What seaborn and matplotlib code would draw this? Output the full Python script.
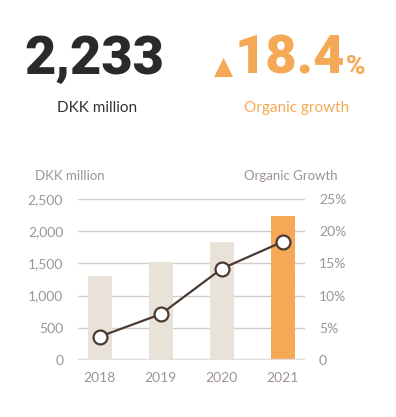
import numpy as np
import pandas as pd
import matplotlib
matplotlib.use("Agg")
import matplotlib.pyplot as plt
from matplotlib import font_manager
import seaborn as sns

years = ["2018", "2019", "2020", "2021"]
revenue = [1310, 1515, 1840, 2233]
growth = [3.6, 7.1, 14.2, 18.4]
left_ticks = [0, 500, 1000, 1500, 2000, 2500]
right_ticks = [0, 5, 10, 15, 20, 25]

BEIGE = "#E8E2D9"
ORANGE = "#F5A855"
BROWN = "#4B3A33"
GREY = "#9E9491"
GRID = "#D3CDCA"

sns.set_theme(style="white")
plt.rcParams["font.family"] = ["Lato", "DejaVu Sans"]

# heavy face for the headline figures
big_font = font_manager.FontProperties(family=["Roboto", "Liberation Sans"],
                                       weight=900)

fig = plt.figure(figsize=(3.96, 4.17), dpi=100)
ax = fig.add_axes([0.198, 0.1374, 0.572, 0.3847])

df = pd.DataFrame({"year": years, "revenue": revenue})
df["hl"] = ["old", "old", "old", "new"]
sns.barplot(data=df, x="year", y="revenue", hue="hl",
            palette={"old": BEIGE, "new": ORANGE}, width=0.39, saturation=1,
            legend=False, ax=ax, zorder=2, edgecolor="none")

ax.set_ylim(0, 2500)
ax.set_xlim(-0.35, 3.36)
ax.set_yticks(left_ticks)
ax.set_yticklabels([f"{v:,}" for v in left_ticks])
for v in left_ticks[1:]:
    ax.axhline(v, color=GRID, lw=1, zorder=1)
ax.axhline(0, color="#E2DEDC", lw=2.5, zorder=3)
for s in ax.spines.values():
    s.set_visible(False)
ax.set_xlabel("")
ax.set_ylabel("")
ax.tick_params(axis="both", length=0, colors=GREY, labelsize=10)
ax.tick_params(axis="y", pad=11)
ax.tick_params(axis="x", pad=9)

ax2 = ax.twinx()
gdf = pd.DataFrame({"pos": np.arange(len(years)), "growth": growth})
sns.lineplot(data=gdf, x="pos", y="growth", ax=ax2, color=BROWN, lw=1.6,
             marker="o", markersize=10, markerfacecolor="white",
             markeredgecolor=BROWN, markeredgewidth=1.6, zorder=5)
ax2.set_ylim(0, 25)
ax2.set_yticks(right_ticks)
ax2.set_yticklabels([f"{v}%" if v else "0" for v in right_ticks])
for s in ax2.spines.values():
    s.set_visible(False)
ax2.set_xlabel("")
ax2.set_ylabel("")
ax2.tick_params(axis="y", length=0, colors=GREY, labelsize=10, pad=10)
ax2.grid(False)

fig.text(35 / 396, 1 - 176 / 417, "DKK million", color=GREY, fontsize=9.5,
         ha="left", va="center")
fig.text(338 / 396, 1 - 176 / 417, "Organic Growth", color=GREY, fontsize=9.5,
         ha="right", va="center")

# header figures
base = 1 - 74 / 417
fig.text(94 / 396, base, f"{revenue[-1]:,}", color="#2A2A2A",
         fontproperties=big_font, fontsize=39, ha="center", va="baseline")
fig.text(97 / 396, 1 - 108 / 417, "DKK million", color="#333333",
         fontsize=11, ha="center", va="center")

tri = fig.text(0, base, "\u25B2", color=ORANGE, fontsize=18,
               family="DejaVu Sans", ha="left", va="baseline")
num = fig.text(0, base, f"{growth[-1]}", color=ORANGE,
               fontproperties=big_font, fontsize=39, ha="left", va="baseline")
pct = fig.text(0, base, "%", color=ORANGE, fontproperties=big_font,
               fontsize=19, ha="left", va="baseline")
fig.canvas.draw()
r = fig.canvas.get_renderer()
widths = [t.get_window_extent(r).width for t in (tri, num, pct)]
gap = 1
x = 290 - (sum(widths) + 2 * gap) / 2
for t, w in zip((tri, num, pct), widths):
    t.set_x(x / 396)
    x += w + gap

fig.text(297 / 396, 1 - 108 / 417, "Organic growth", color=ORANGE,
         fontsize=11, ha="center", va="center")

fig.savefig("out.png", dpi=100, facecolor="white")
